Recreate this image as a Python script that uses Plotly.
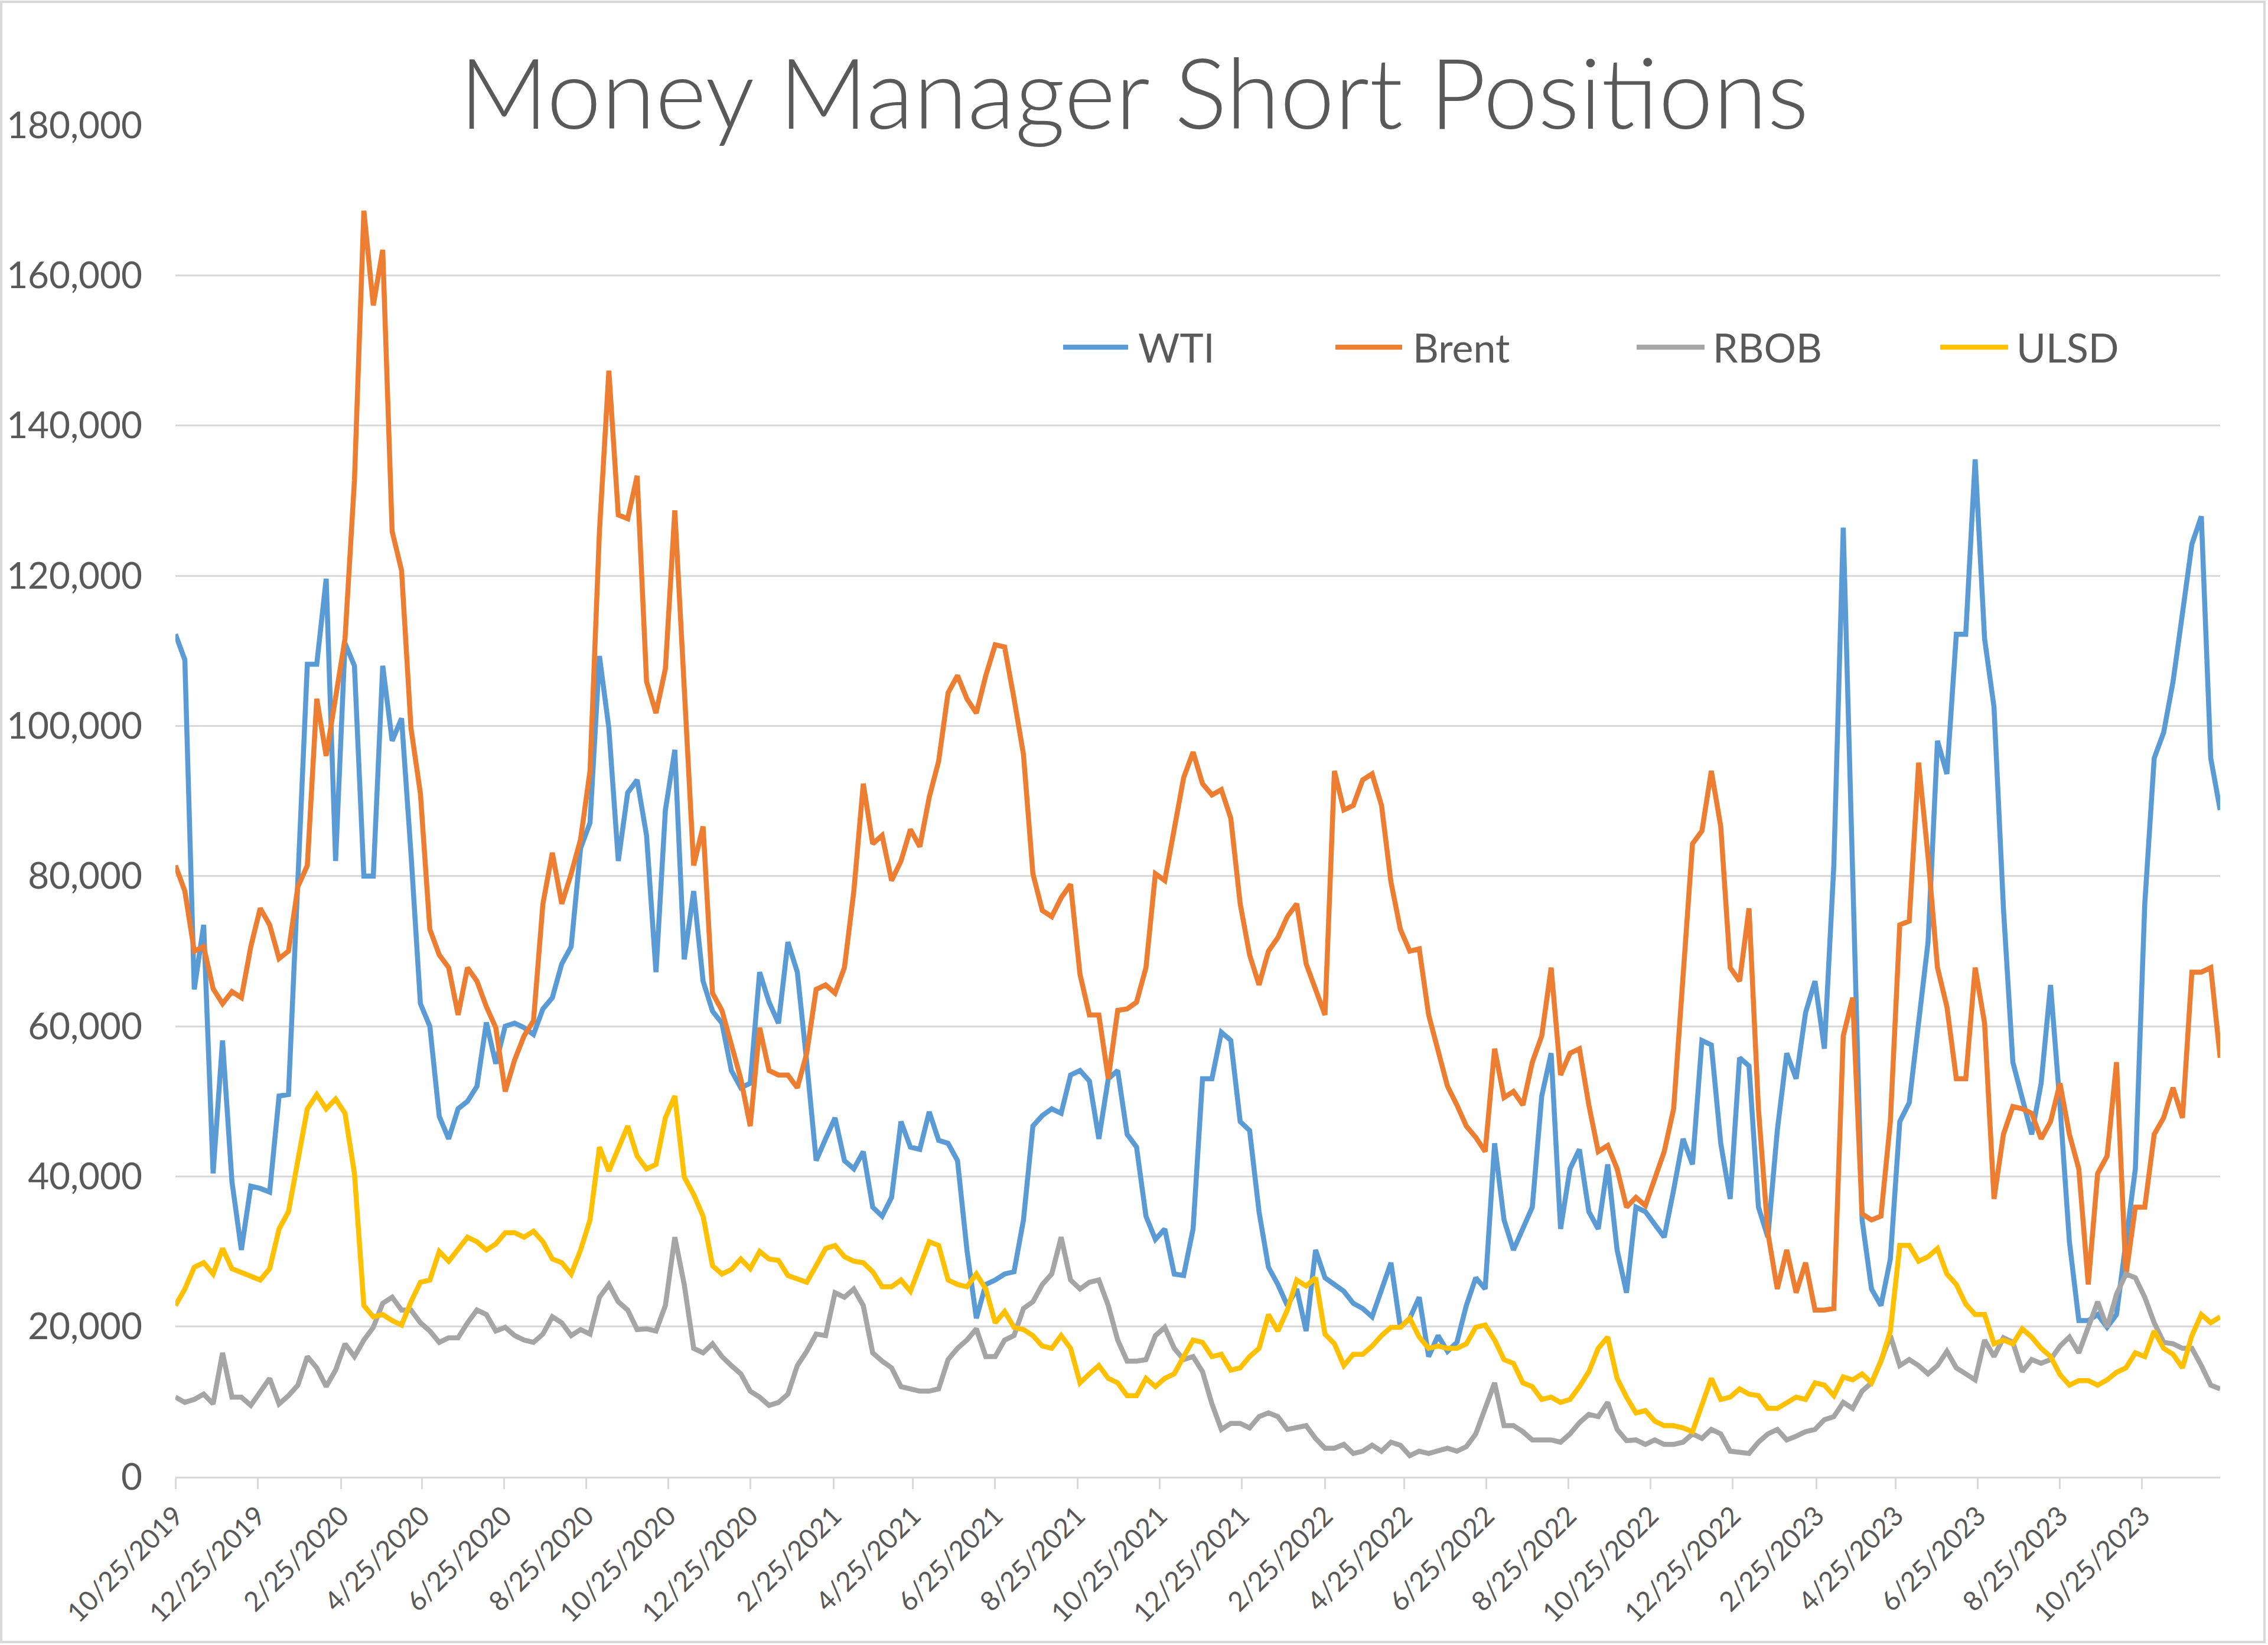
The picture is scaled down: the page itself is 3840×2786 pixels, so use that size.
import pandas as pd
import plotly.graph_objects as go

# ---------------- data (thousands of contracts, weekly from 10/25/2019) ----------------
start_date = "2019-10-25"

wti_k = [
    112.2, 108.8, 64.9, 73.5, 40.4, 58.1, 39.3, 30.2, 38.7, 38.4, 37.9, 50.7, 50.9, 79, 108.2, 108.2, 119.6, 82,
    111, 108, 80, 80, 108, 98, 101, 83, 63, 60, 48, 45, 49, 50, 52, 60.5, 55, 60, 60.4,
    59.8, 58.9, 62.3, 63.8, 68.3, 70.6, 83.7, 87.1, 109.3, 99.7, 82, 91.1, 92.8, 85.4, 67.2, 88.8, 96.8, 68.9,
    78, 66, 62, 60.4, 54.1, 51.8, 52.4, 67.2, 63.2, 60.4, 71.2, 67.2, 55.2, 42.1, 45, 47.8, 42.1, 41,
    43.3, 35.9, 34.7, 37.2, 47.3, 43.9, 43.6, 48.6, 44.8, 44.4, 42.1, 30.2, 21.1, 25.6, 26.2, 27, 27.3, 34.2,
    46.7, 48.1, 49, 48.4, 53.5, 54.1, 52.7, 45, 53, 54.1, 45.6, 43.9, 34.7, 31.6, 33, 27, 26.8, 33, 53,
    53, 59.2, 58.1, 47.3, 46.1, 35.3, 27.9, 25.6, 22.8, 25, 19.4, 30.2, 26.5, 25.6, 24.7, 23.1, 22.4, 21.3,
    25, 28.5, 19.9, 21.1, 23.9, 16, 18.8, 16.7, 17.9, 22.8, 26.5, 25, 44.4, 34.2, 30.2, 33, 35.9, 50.7,
    56.4, 33, 41, 43.6, 35.3, 33, 41.6, 30.2, 24.5, 35.9, 35.3, 33.6, 31.9, 38.2, 45, 41.6, 58.1, 57.5,
    44.4, 37, 55.8, 54.7, 35.9, 31.9, 46.1, 56.4, 53, 61.8, 66, 57, 81.4, 126.4, 81.4, 34.2, 25, 22.8,
    29, 47.3, 49.8, 60.9, 71.2, 98, 93.6, 112.2, 112.2, 135.5, 111.6, 102.5, 75.7, 55.2, 50.1, 45.6, 52.4, 65.5,
    49.5, 31.3, 20.8, 20.8, 21.6, 19.9, 21.6, 31.9, 41, 76.3, 95.7, 99.1, 105.9, 115, 124.2, 127.9, 95.7, 88.8,
]

brent_k = [
    81.4, 78, 70, 70.6, 65, 63, 64.6, 63.8, 70.6, 75.7, 73.5, 69, 70, 78.6, 81.4, 103.6, 96, 104,
    111.6, 132.7, 168.6, 156, 163.4, 125.9, 120.7, 99.7, 91, 72.9, 69.5, 67.8, 61.5, 67.8, 66, 62.6, 59.8, 51.3, 55.5,
    58.7, 60.7, 76.3, 83.1, 76.3, 80.3, 84.9, 94, 125.9, 147.3, 128.1, 127.6, 133.3, 105.9, 101.7, 107.6, 128.7, 105.4,
    81.4, 86.6, 64.4, 62.1, 57.5, 53, 46.7, 59.8, 54.1, 53.5, 53.5, 51.8, 56.4, 64.9, 65.5, 64.4, 67.8, 78,
    92.3, 84.3, 85.4, 79.4, 82, 86.2, 83.9, 90.5, 95.3, 104.4, 106.7, 103.6, 101.7, 106.7, 110.8, 110.5, 103.6, 96.2,
    80.3, 75.4, 74.6, 77.1, 78.9, 66.9, 61.5, 61.5, 53, 62.1, 62.3, 63.2, 67.8, 80.3, 79.4, 86, 93.1, 96.5, 92.3,
    90.8, 91.5, 87.7, 76.3, 69.5, 65.5, 70, 71.8, 74.6, 76.3, 68.3, 64.9, 61.5, 94, 88.8, 89.4, 92.8, 93.6,
    89.4, 79.2, 72.9, 70, 70.3, 61.5, 57, 52, 49.5, 46.7, 45.2, 43.3, 57, 50.5, 51.3, 49.5, 55.2, 58.7,
    67.8, 53.5, 56.4, 57, 49.5, 43.3, 44.1, 41, 35.9, 37.2, 36.1, 39.9, 43.3, 49, 67.8, 84.3, 86, 94,
    86.6, 67.8, 66, 75.7, 49, 32.5, 25, 30.2, 24.5, 28.5, 22.2, 22.2, 22.4, 58.7, 63.8, 35, 34.2, 34.7,
    47.3, 73.5, 74, 95.1, 82.6, 67.8, 62.6, 53, 53, 67.8, 60.4, 37, 45.6, 49.3, 49, 48.4, 45, 47.3,
    52.4, 45.6, 41, 25.6, 40.4, 42.7, 55.2, 26.8, 35.9, 35.9, 45.6, 47.8, 51.8, 47.8, 67.2, 67.2, 67.8, 55.8,
]

rbob_k = [
    10.6, 9.9, 10.3, 11, 9.7, 16.5, 10.6, 10.6, 9.5, 11.4, 13.1, 9.7, 10.8, 12.2, 16, 14.5, 12, 14.2,
    17.7, 16, 18.2, 19.9, 23.1, 23.9, 22.2, 22.2, 20.5, 19.4, 17.9, 18.5, 18.5, 20.5, 22.2, 21.6, 19.4, 19.9, 18.8,
    18.2, 17.9, 19, 21.3, 20.5, 18.8, 19.6, 19, 23.9, 25.6, 23.3, 22.2, 19.6, 19.7, 19.4, 22.8, 31.9, 25.6,
    17.1, 16.5, 17.7, 16, 14.8, 13.7, 11.4, 10.6, 9.5, 9.9, 11, 14.8, 16.7, 19, 18.8, 24.5, 23.9, 25,
    22.8, 16.5, 15.4, 14.5, 12, 11.7, 11.4, 11.4, 11.7, 15.6, 17.1, 18.2, 19.7, 16, 16, 18.2, 18.8, 22.4,
    23.3, 25.6, 27, 31.9, 26.2, 25, 25.9, 26.2, 22.8, 18.2, 15.4, 15.4, 15.6, 18.8, 19.9, 17.1, 15.6, 16, 14,
    9.7, 6.3, 7.1, 7.1, 6.5, 8, 8.5, 8, 6.3, 6.5, 6.8, 5.1, 3.8, 3.8, 4.3, 3.1, 3.4, 4.2,
    3.4, 4.6, 4.2, 2.8, 3.4, 3.1, 3.4, 3.8, 3.4, 4, 5.7, 9.1, 12.5, 6.8, 6.8, 6, 4.9, 4.9,
    4.9, 4.6, 5.7, 7.2, 8.3, 8, 9.9, 6.3, 4.8, 4.9, 4.3, 4.9, 4.3, 4.3, 4.6, 5.7, 5.1, 6.3,
    5.7, 3.4, 3.2, 3.1, 4.6, 5.7, 6.3, 4.9, 5.4, 6, 6.3, 7.6, 8, 9.9, 9.1, 11.4, 12.5, 15.4,
    18.8, 14.8, 15.6, 14.8, 13.7, 14.8, 16.7, 14.5, 13.7, 12.9, 18.2, 16, 18.5, 17.9, 14, 15.6, 15.1, 15.6,
    17.4, 18.6, 16.5, 19.9, 23.3, 19.9, 24.3, 27, 26.5, 23.9, 20.5, 17.9, 17.7, 17.1, 17.1, 14.8, 12.2, 11.7,
]

ulsd_k = [
    22.8, 25, 27.9, 28.5, 27, 30.4, 27.7, 27.2, 26.8, 26.2, 27.7, 33, 35.3, 42.1, 49, 50.9, 49, 50.3,
    48.4, 40.4, 22.8, 21.3, 21.6, 20.8, 20.2, 23.3, 25.9, 26.2, 30, 28.7, 30.2, 31.9, 31.3, 30.2, 31, 32.5, 32.5,
    31.9, 32.7, 31.3, 29, 28.5, 27, 30.2, 34.2, 43.9, 40.7, 43.9, 46.7, 42.7, 41, 41.6, 47.8, 50.7, 39.9,
    37.6, 34.7, 28.1, 27, 27.6, 29, 27.7, 30, 29, 28.8, 26.8, 26.4, 25.9, 28.1, 30.4, 30.8, 29.3, 28.7,
    28.5, 27.3, 25.3, 25.3, 26.2, 24.7, 27.9, 31.3, 30.8, 26.2, 25.6, 25.3, 27, 25, 20.5, 22, 19.9, 19.6,
    18.8, 17.4, 17.1, 18.8, 17.1, 12.5, 13.7, 14.8, 13.1, 12.5, 10.8, 10.8, 13.1, 12, 13.1, 13.7, 16, 18.2, 17.9,
    16, 16.3, 14.2, 14.5, 16, 17.1, 21.6, 19.4, 22.2, 26.2, 25.4, 26.5, 19, 17.7, 14.8, 16.3, 16.3, 17.4,
    18.8, 19.9, 19.9, 21.1, 18.6, 17.1, 17.4, 17.1, 17.1, 17.7, 19.9, 20.2, 18.2, 15.6, 15.1, 12.5, 12, 10.3,
    10.6, 9.9, 10.3, 12, 14, 17.1, 18.6, 13.1, 10.6, 8.5, 8.8, 7.4, 6.8, 6.8, 6.5, 6, 9.7, 13.1,
    10.3, 10.6, 11.7, 11, 10.8, 9.1, 9.1, 9.9, 10.6, 10.3, 12.5, 12.2, 10.8, 13.3, 12.9, 13.7, 12.5, 15.4,
    19.4, 30.8, 30.8, 28.7, 29.3, 30.4, 27, 25.6, 23, 21.6, 21.6, 17.7, 18.2, 17.7, 19.7, 18.6, 17.1, 16,
    13.6, 12.2, 12.8, 12.8, 12.2, 12.9, 13.9, 14.5, 16.5, 16, 19.4, 17.1, 16.3, 14.5, 18.8, 21.6, 20.5, 21.3,
]

series_names = ["WTI", "Brent", "RBOB", "ULSD"]
tick_dates = pd.date_range("2019-10-01", "2023-10-01", freq="2MS") + pd.Timedelta(days=24)
tick_labels = [f"{d.month}/{d.day}/{d.year}" for d in tick_dates]
y_ticks = list(range(0, 180001, 20000))

# ---------------- layout constants ----------------
W, H = 3840, 2786
L, R, T, B = 297, 81, 212, 285
PW, PH = W - L - R, H - T - B
TXT = "#595959"
GRID = "#d9d9d9"
FONT = "Lato"
colors = ["#5B9BD5", "#ED7D31", "#A5A5A5", "#FFC000"]
LW = 8.5

def px_x(x):
    return (x - L) / PW

def px_y(y):
    return (H - B - y) / PH

dates = pd.date_range(start_date, periods=len(wti_k), freq="7D")
all_series = [wti_k, brent_k, rbob_k, ulsd_k]

fig = go.Figure()
for name, vals, col in zip(series_names, all_series, colors):
    fig.add_trace(go.Scatter(
        x=dates, y=[v * 1000 for v in vals], name=name, mode="lines",
        line=dict(color=col, width=LW), showlegend=False,
    ))

# manual legend (long line swatches like the original)
legend_items = [(1800, 1910, 1925), (2261, 2374, 2390), (2771, 2886, 2898), (3285, 3400, 3412)]
legend_y = 588
shapes = []
annotations = []
for (x0, x1, xt), name, col in zip(legend_items, series_names, colors):
    shapes.append(dict(type="line", xref="paper", yref="paper",
                       x0=px_x(x0), x1=px_x(x1), y0=px_y(legend_y), y1=px_y(legend_y),
                       line=dict(color=col, width=LW)))
    annotations.append(dict(xref="paper", yref="paper", x=px_x(xt), y=px_y(legend_y),
                            text=name, showarrow=False, xanchor="left", yanchor="middle",
                            font=dict(family=FONT, size=68, color=TXT)))

# outer chart border
shapes.append(dict(type="rect", xref="paper", yref="paper", layer="below",
                   x0=px_x(2), x1=px_x(3834), y0=px_y(2781), y1=px_y(3),
                   line=dict(color=GRID, width=4), fillcolor="rgba(0,0,0,0)"))

fig.update_layout(
    width=W, height=H,
    margin=dict(l=L, r=R, t=T, b=B),
    paper_bgcolor="white", plot_bgcolor="white",
    title=dict(text="Money Manager Short Positions", x=0.5, xref="container", xanchor="center",
               y=1 - 160 / H, yref="container", yanchor="middle",
               font=dict(family=FONT, size=166, color=TXT, weight=300)),
    shapes=shapes, annotations=annotations,
    xaxis=dict(
        type="date", range=[dates[0], dates[-1]],
        tickmode="array", tickvals=list(tick_dates), ticktext=tick_labels,
        tickangle=-45, ticks="outside", ticklen=18, tickwidth=3, tickcolor=GRID,
        showgrid=False, showline=True, linecolor=GRID, linewidth=3, zeroline=False,
        tickfont=dict(family=FONT, size=46, color=TXT),
    ),
    yaxis=dict(
        range=[0, 180000], tickmode="array", tickvals=y_ticks,
        tickformat=",d", showgrid=True, gridcolor=GRID, gridwidth=3,
        zeroline=False, showline=False, ticks="", ticklabelstandoff=55,
        tickfont=dict(family=FONT, size=62, color=TXT),
    ),
)

fig.write_html("out.html")
